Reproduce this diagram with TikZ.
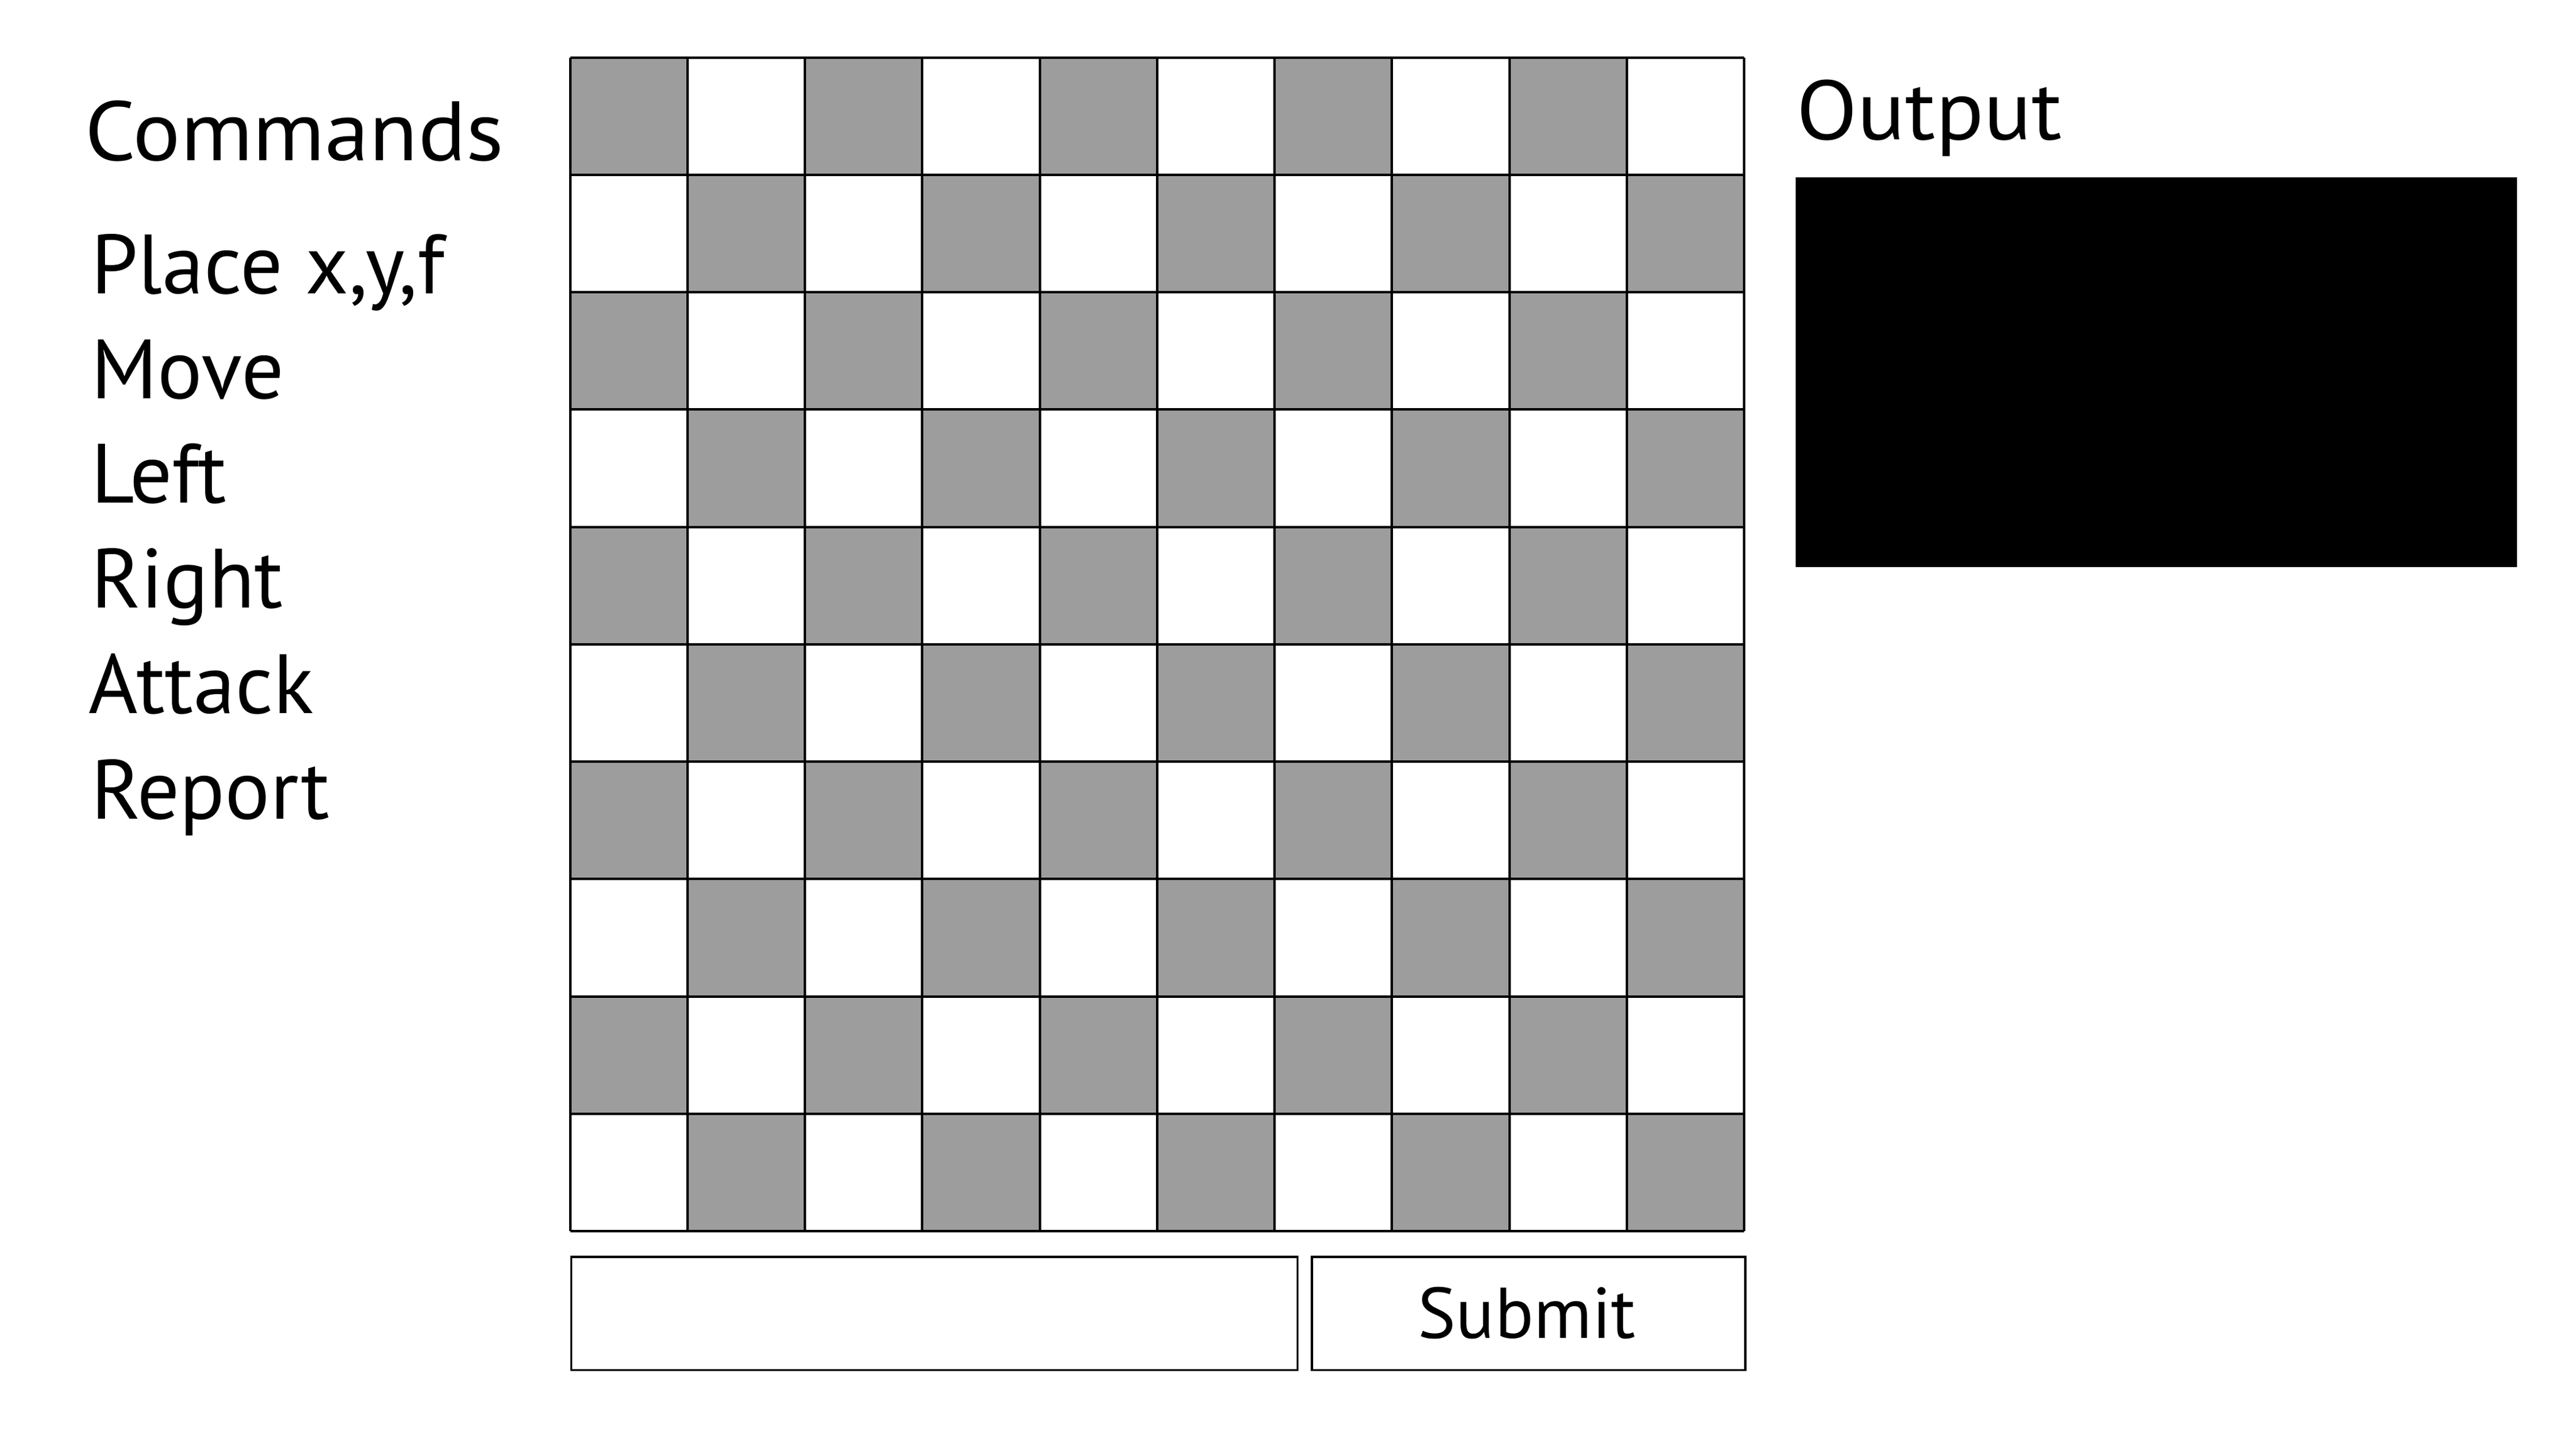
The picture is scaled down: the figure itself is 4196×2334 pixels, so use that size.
\documentclass[tikz,border=0pt]{standalone}
\usepackage{fontspec}
\setmainfont{PT Sans}
\definecolor{cellgray}{HTML}{9D9D9D}
\begin{document}
\begin{tikzpicture}[x=1pt,y=-1pt,
  lbl/.style={anchor=base west, inner sep=0pt, font=\fontsize{137}{137}\selectfont},
  btn/.style={draw=black, line width=3.6pt, fill=white, inner sep=0pt, anchor=north west},
  gridline/.style={line width=4pt, draw=black}]
\useasboundingbox[fill=white] (0,0) rectangle (4196,2334);
% checkerboard
\foreach \i in {0,...,9}{
  \foreach \j in {0,...,9}{
    \pgfmathtruncatemacro{\myparity}{mod(\i+\j,2)}
    \ifnum\myparity=0
      \fill[cellgray] ({928.7+191.24*\i},{93.7+191.24*\j}) rectangle ++(191.24,191.24);
    \fi
  }
}
\foreach \k in {0,...,10}{
  \draw[gridline] ({928.7+191.24*\k},93.7) -- ({928.7+191.24*\k},2006.1);
  \draw[gridline] (928.7,{93.7+191.24*\k}) -- (2841.1,{93.7+191.24*\k});
}
% labels
\node[lbl] (cmd) at (138,261.5) {\scalebox{1.06}[1]{Commands}};
\node[lbl] (place) at (148,478) {Place x,y,f};
\node[lbl] (move) at (148,649) {Move};
\node[lbl] (left) at (148,819.5) {Left};
\node[lbl] (right) at (148,990.5) {Right};
\node[lbl] (attack) at (144,1162) {Attack};
\node[lbl] (report) at (148,1334) {Report};
\node[lbl] (outlbl) at (2926,227) {\scalebox{1.06}[1]{Output}};
% output box
\fill[black] (2925,289) rectangle (4100,924);
% input and submit
\node[btn, minimum width=1183pt, minimum height=184.7pt] (input) at (928.7,2046) {};
\node[btn, minimum width=706pt, minimum height=184.7pt] (submit) at (2135,2046) {};
\node[font=\fontsize{117}{117}\selectfont, anchor=base, inner sep=0pt] (subtxt) at (2487,2180) {Submit};
\end{tikzpicture}
\end{document}
